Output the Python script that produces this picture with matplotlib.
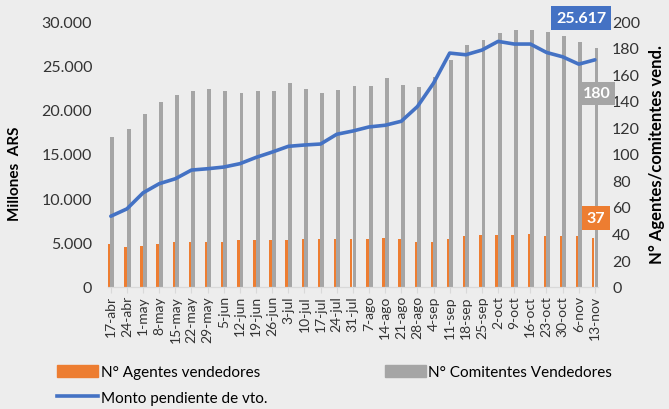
import numpy as np
import matplotlib
matplotlib.use("Agg")
import matplotlib.pyplot as plt
from matplotlib.ticker import FuncFormatter
from matplotlib.patches import Patch
from matplotlib.lines import Line2D

plt.rcParams['font.family'] = ['Lato', 'DejaVu Sans']

fechas = ['17-abr', '24-abr', '1-may', '8-may', '15-may', '22-may', '29-may', '5-jun',
          '12-jun', '19-jun', '26-jun', '3-jul', '10-jul', '17-jul', '24-jul', '31-jul',
          '7-ago', '14-ago', '21-ago', '28-ago', '4-sep', '11-sep', '18-sep', '25-sep',
          '2-oct', '9-oct', '16-oct', '23-oct', '30-oct', '6-nov', '13-nov']
agentes = [32, 30, 31, 32, 34, 34, 34, 34, 35, 35, 35, 35, 36, 36, 36, 36,
           36, 37, 36, 34, 34, 36, 38, 39, 39, 39, 40, 38, 38, 38, 37]
comitentes = [113, 119, 130, 139, 144, 147, 149, 147, 146, 147, 147, 153, 149, 146, 148, 151,
              151, 157, 152, 150, 158, 171, 182, 186, 191, 193, 193, 192, 189, 184, 180]
monto = [7960, 8790, 10600, 11630, 12190, 13170, 13320, 13510, 13890, 14600, 15200,
         15850, 16000, 16110, 17210, 17580, 18040, 18230, 18680, 20340, 22980, 26380,
         26190, 26720, 27700, 27400, 27400, 26450, 25960, 25130, 25617]

c_or = '#ED7D31'
c_gr = '#A5A5A5'
c_bl = '#4472C4'
bg = '#EDEDED'
txt = '#333333'

x = np.arange(len(fechas))

fig = plt.figure(figsize=(6.69, 4.10), dpi=100, facecolor=bg)
ax2 = fig.add_axes([0.1607, 0.2983, 0.8943 - 0.1607, 0.9463 - 0.2983])
ax = ax2.twinx()
ax.yaxis.tick_left()
ax.yaxis.set_label_position('left')
ax2.yaxis.tick_right()
ax2.yaxis.set_label_position('right')
ax2.set_facecolor(bg)
ax.set_zorder(ax2.get_zorder() + 1)
ax.patch.set_visible(False)

# bars on the right axis
ax2.bar(x, agentes, width=0.15, color=c_or)
ax2.bar(x + 0.2, comitentes, width=0.24, color=c_gr)
ax2.set_ylim(0, 200)
ax2.set_yticks(range(0, 201, 20))

# line on the left axis
ax.plot(x + 0.1, monto, color=c_bl, lw=2.6, solid_capstyle='round')
ax.set_ylim(0, 30000)
ax.set_yticks(range(0, 30001, 5000))
ax.yaxis.set_major_formatter(FuncFormatter(lambda v, p: f"{int(v):,}".replace(",", ".")))

ax2.set_xlim(-0.105, 30.31)
ax2.set_xticks(x + 0.1)
ax2.set_xticklabels(fechas, rotation=90, fontsize=10, color=txt)
ax2.tick_params(axis='x', length=4, color='#D9D9D9', pad=2)
ax2.tick_params(axis='y', length=0, pad=10, labelsize=11.5, labelcolor=txt)
ax.tick_params(axis='y', length=0, pad=11, labelsize=11.5, labelcolor=txt)

for a in (ax, ax2):
    for s in ('top', 'left', 'right'):
        a.spines[s].set_visible(False)
    a.spines['bottom'].set_color('#D9D9D9')

ax.set_ylabel('Millones  ARS', fontsize=11, fontweight='bold', labelpad=12)
ax.yaxis.set_label_coords(-0.175, 0.43)
ax2.set_ylabel('N° Agentes/comitentes vend.', fontsize=12, fontweight='bold', labelpad=6)

# data labels on last point
ax.annotate(f"{monto[-1]:,}".replace(",", "."), (x[-1] + 0.1, monto[-1]),
            xytext=(-10, 30), textcoords='offset points', ha='center', va='center',
            color='white', fontsize=11.5, fontweight='bold',
            bbox=dict(boxstyle='square,pad=0.3', fc=c_bl, ec='none'))
ax2.annotate(str(comitentes[-1]), (x[-1] + 0.2, comitentes[-1]),
             xytext=(0, -33), textcoords='offset points', ha='center', va='center',
             color='white', fontsize=11.5, fontweight='bold',
             bbox=dict(boxstyle='square,pad=0.3', fc=c_gr, ec='none'))
ax2.annotate(str(agentes[-1]), (x[-1], agentes[-1]),
             xytext=(2, 14), textcoords='offset points', ha='center', va='center',
             color='white', fontsize=11.5, fontweight='bold',
             bbox=dict(boxstyle='square,pad=0.3', fc=c_or, ec='none'))

handles = [Patch(color=c_or), Line2D([], [], color=c_bl, lw=2.6), Patch(color=c_gr)]
labels = ['N° Agentes vendedores', 'Monto pendiente de vto.', 'N° Comitentes Vendedores']
fig.legend(handles, labels, ncol=2, loc='upper left', bbox_to_anchor=(57 / 669, 1 - 366 / 410),
           frameon=False, fontsize=11, borderpad=0, borderaxespad=0, handlelength=2.7,
           handleheight=0.8, handletextpad=0.15, columnspacing=7.7, labelspacing=0.75)

fig.savefig('out.png', dpi=100, facecolor=bg)
